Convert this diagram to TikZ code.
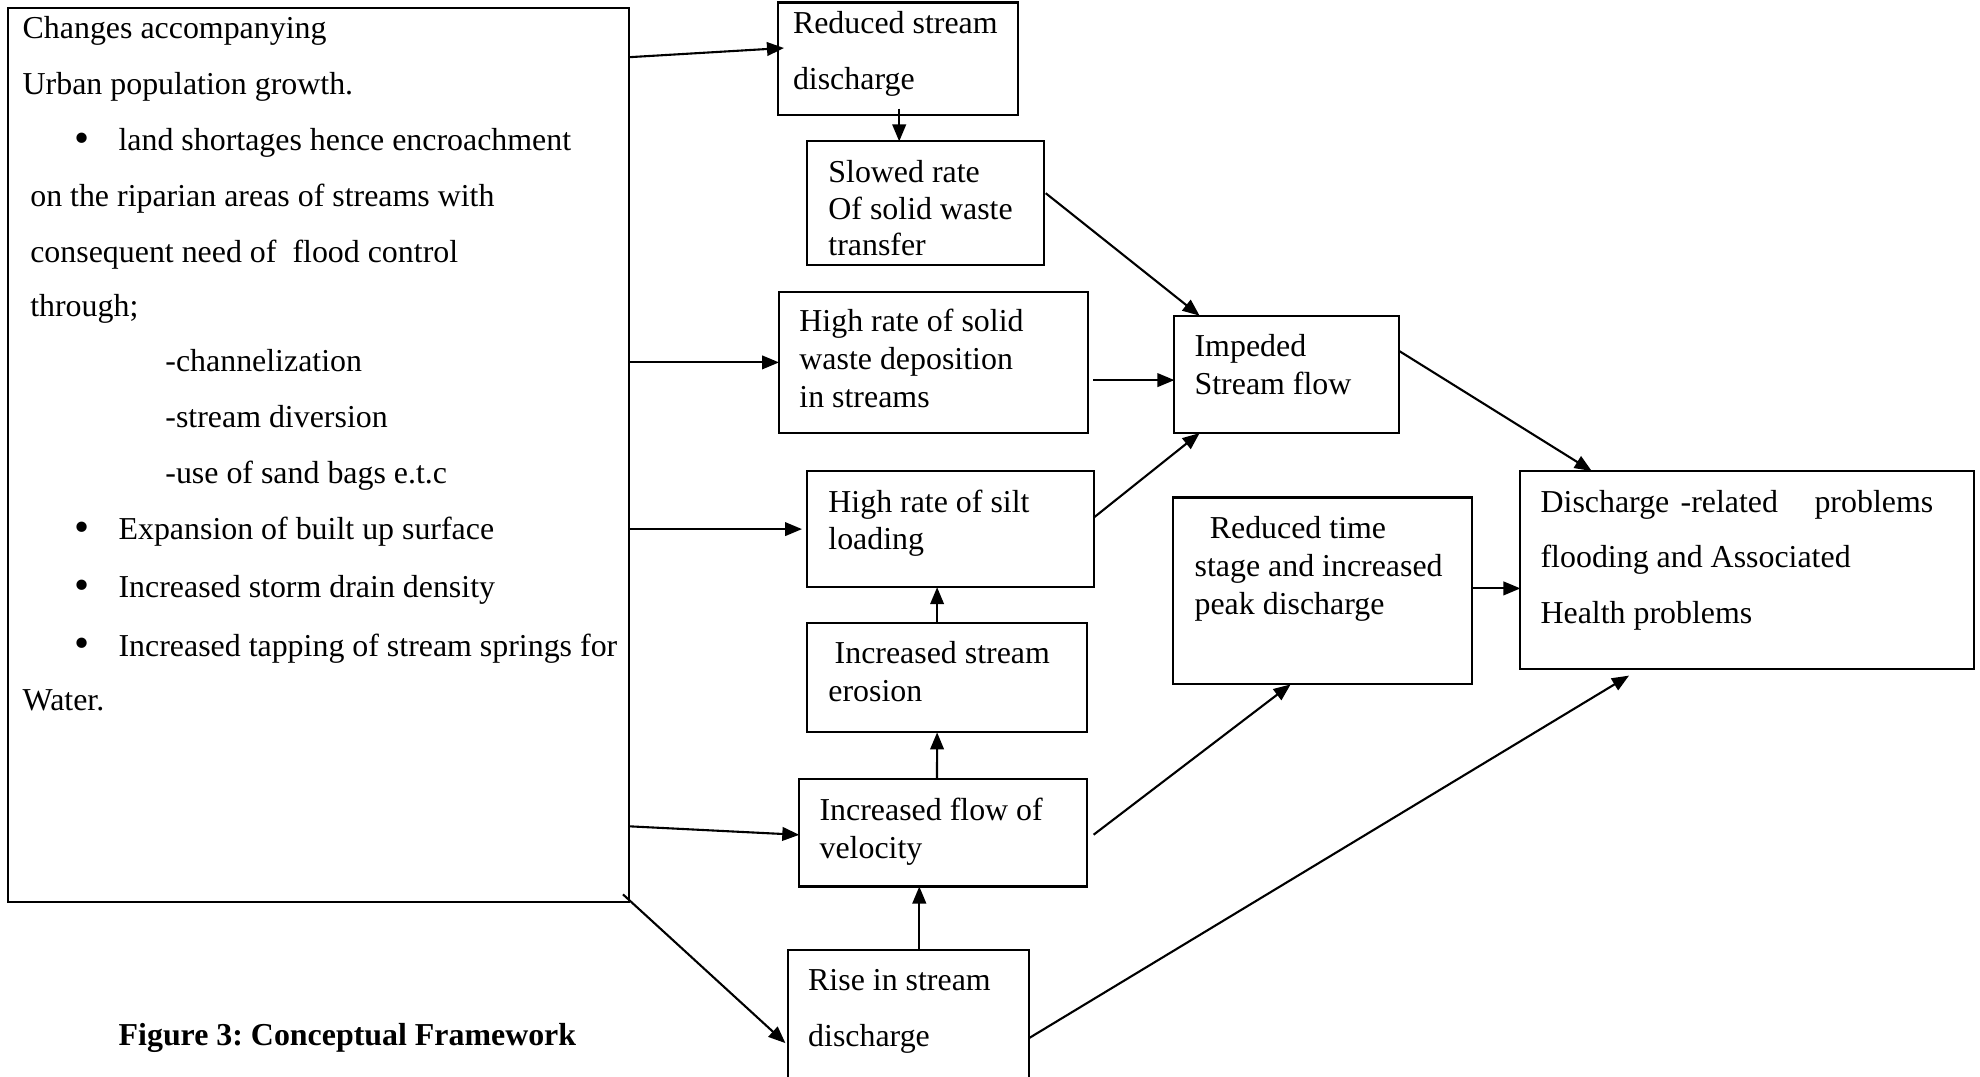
\documentclass[tikz,border=0pt]{standalone}
\usepackage{fontspec}
\setmainfont{Liberation Serif}
\usetikzlibrary{arrows.meta,calc}
\newcommand\diagfont{\fontsize{15.95}{19}\selectfont\frenchspacing}
\newcommand\bul{\makebox[22.3pt][l]{\raisebox{-0.6pt}{\scalebox{1.35}{\textbullet}}}}
\begin{document}
\begin{tikzpicture}[x=0.5pt,y=-0.5pt,
  box/.style={draw,line width=1.05pt,anchor=north west,inner sep=0pt,outer sep=0pt},
  txt/.style={anchor=mid west,inner sep=0pt,outer sep=0pt,font=\diagfont,yshift=-3.1pt},
  arr/.style={draw,line width=1.05pt,-{Triangle[length=8.5pt,width=6.8pt]}}]
\useasboundingbox (0,0) rectangle (1980,1076);
\clip (0,0) rectangle (1980,1076);
\fill[white] (0,0) rectangle (1980,1076);

% boxes
\node[box,minimum width=310.5pt,minimum height=447pt] (L) at (8,8) {};
\node[box,minimum width=120pt,minimum height=56.2pt] (RSD) at (778,2.5) {};
\node[box,minimum width=118.7pt,minimum height=61.9pt] (SR) at (807,141.4) {};
\node[box,minimum width=154.7pt,minimum height=70.7pt] (HS) at (779,291.7) {};
\node[box,minimum width=112.4pt,minimum height=58.7pt] (IS) at (1174.4,315.7) {};
\node[box,minimum width=143.3pt,minimum height=58.1pt] (HSL) at (807,471) {};
\node[box,minimum width=140.2pt,minimum height=54.9pt] (ISE) at (807,622.6) {};
\node[box,minimum width=144pt,minimum height=53.7pt] (IFV) at (799.3,779.1) {};
\node[box,minimum width=120.6pt,minimum height=75pt] (RISD) at (788,949.6) {};
\node[box,minimum width=149.65pt,minimum height=93.45pt] (RT) at (1173.1,497.5) {};
\node[box,minimum width=226.7pt,minimum height=99.15pt] (DR) at (1520.4,471) {};

% left box text
\node[txt] (l1) at (22.7,27.8) {Changes accompanying};
\node[txt] (l2) at (22.7,83.3) {Urban population growth.};
\node[txt] (l3) at (74,140.2) {\bul land shortages hence encroachment};
\node[txt] (l4) at (30.3,195.7) {on the riparian areas of streams with};
\node[txt] (l5) at (30.3,251.3) {consequent need of\ \ flood control};
\node[txt] (l6) at (30.3,305.6) {through;};
\node[txt] (l7) at (165.4,361.2) {-channelization};
\node[txt] (l8) at (165.4,416.7) {-stream diversion};
\node[txt] (l9) at (165.4,472.3) {-use of sand bags e.t.c};
\node[txt] (l10) at (74,529.1) {\bul Expansion of built up surface};
\node[txt] (l11) at (74,587.2) {\bul Increased storm drain density};
\node[txt] (l12) at (74,645.3) {\bul Increased tapping of stream springs for};
\node[txt] (l13) at (22.7,699.6) {Water.};

% box texts
\node[txt] (rsd1) at (793,22.7) {Reduced stream};
\node[txt] (rsd2) at (793,78.3) {discharge};
\node[txt] (sr1) at (828.4,171.7) {Slowed rate};
\node[txt] (sr2) at (828.4,208.4) {Of solid waste};
\node[txt] (sr3) at (828.4,245) {transfer};
\node[txt] (hs1) at (799.4,320.8) {High rate of solid};
\node[txt] (hs2) at (799.4,358.6) {waste deposition};
\node[txt] (hs3) at (799.4,396.5) {in streams};
\node[txt] (is1) at (1194.6,346) {Impeded};
\node[txt] (is2) at (1194.6,383.9) {Stream flow};
\node[txt] (hsl1) at (828.4,501.3) {High rate of silt};
\node[txt] (hsl2) at (828.4,539.2) {loading};
\node[txt] (ise1) at (834.7,652.9) {Increased stream};
\node[txt] (ise2) at (828.4,690.7) {erosion};
\node[txt] (ifv1) at (819.6,809.5) {Increased flow of};
\node[txt] (ifv2) at (819.6,847.3) {velocity};
\node[txt] (risd1) at (808.2,979.9) {Rise in stream};
\node[txt] (risd2) at (808.2,1035.5) {discharge};
\node[txt] (rt1) at (1209.8,527.8) {Reduced time};
\node[txt] (rt2) at (1194.6,565.7) {stage and increased};
\node[txt] (rt3) at (1194.6,603.6) {peak discharge};
\node[txt] (dr1) at (1540.6,501.3) {\makebox[70pt][l]{Discharge}\makebox[66.95pt][l]{-related}problems};
\node[txt] (dr2) at (1540.6,556.9) {flooding and Associated};
\node[txt] (dr3) at (1540.6,612.5) {Health problems};
\node[txt,font=\diagfont\bfseries] (cap) at (118.7,1034.2) {Figure 3: Conceptual Framework};

% connectors
\draw[arr] ($(L.north east)+(0,49.2)$) -- ($(RSD.north west)+(6,45.5)$);
\draw[arr] (L.east |- HS.west) -- (HS.west);
\draw[arr] (L.east |- HSL.west) -- ($(HSL.west)+(-5,0)$);
\draw[arr] ($(L.north east)+(0,818.3)$) -- ($(IFV.west)+(0,2)$);
\draw[arr] ($(L.south east)+(-6,-7.6)$) -- ($(RISD.north west)+(-2.6,93.5)$);
\draw[arr] ($(RSD.south west)+(121.2,-6.3)$) -- ($(SR.north west)+(92.2,0)$);
\draw[arr] ($(SR.north east)+(1.3,51.8)$) -- ($(IS.north west)+(25.2,0)$);
\draw[arr] ($(HS.north east)+(5,88.4)$) -- ($(IS.north west)+(0,64.4)$);
\draw[arr] ($(HSL.north east)+(0,46.7)$) -- ($(IS.south west)+(25.2,0)$);
\draw[arr] ($(ISE.north west)+(130.1,0)$) -- ($(HSL.south west)+(130.1,0)$);
\draw[arr] ($(IFV.north west)+(137.7,0)$) -- ($(ISE.south west)+(130.1,0)$);
\draw[arr] ($(RISD.north west)+(131.3,0)$) -- ($(IFV.south west)+(120,0)$);
\draw[arr] ($(IFV.north east)+(6.3,55.6)$) -- ($(RT.south west)+(117.5,0)$);
\draw[arr] ($(IS.north east)+(0,35.3)$) -- ($(DR.north west)+(71.3,0)$);
\draw[arr] ($(RT.north east)+(0,90.9)$) -- ($(DR.north west)+(0,117.4)$);
\draw[arr] ($(RISD.north east)+(0,88.4)$) -- ($(DR.south west)+(108.6,6.3)$);
\end{tikzpicture}
\end{document}
